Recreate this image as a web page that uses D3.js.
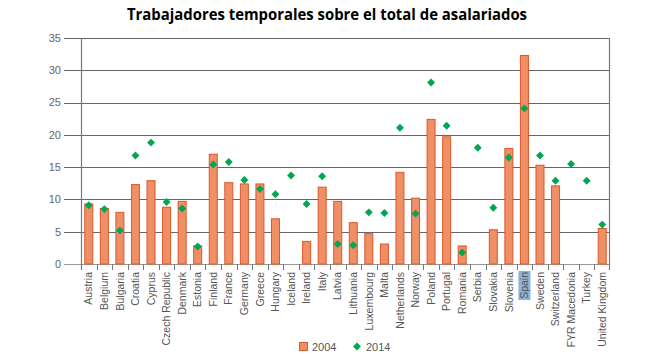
<!DOCTYPE html>
<html>
<head>
<meta charset="utf-8">
<script src="https://cdn.jsdelivr.net/npm/d3@7"></script>
<style>
  body { margin: 0; background: #fff; }
</style>
</head>
<body>
<div id="chart"></div>
<script>
const countries = ["Austria", "Belgium", "Bulgaria", "Croatia", "Cyprus", "Czech Republic", "Denmark",
  "Estonia", "Finland", "France", "Germany", "Greece", "Hungary", "Iceland", "Ireland", "Italy", "Latvia",
  "Lithuania", "Luxembourg", "Malta", "Netherlands", "Norway", "Poland", "Portugal", "Romania", "Serbia",
  "Slovakia", "Slovenia", "Spain", "Sweden", "Switzerland", "FYR Macedonia", "Turkey", "United Kingdom"];

// 2004 bars (null = no data)
const values2004 = [9.3, 8.6, 8.0, 12.3, 12.9, 8.8, 9.7, 2.8, 17.0, 12.6, 12.4, 12.4, 7.0, null, 3.5, 11.9, 9.7,
  6.4, 4.7, 3.1, 14.2, 10.2, 22.4, 19.7, 2.8, null, 5.3, 17.9, 32.3, 15.3, 12.1, null, null, 5.5];

// 2014 diamonds
const values2014 = [9.1, 8.5, 5.2, 16.8, 18.8, 9.6, 8.6, 2.7, 15.4, 15.8, 13.0, 11.6, 10.8, 13.7, 9.3, 13.6, 3.1,
  2.9, 8.0, 7.9, 21.1, 7.8, 28.1, 21.4, 1.8, 18.0, 8.7, 16.5, 24.1, 16.8, 12.9, 15.5, 12.9, 6.1];

const yTicks = [0, 5, 10, 15, 20, 25, 30, 35];

const width = 653, height = 354;
const margin = {top: 38, right: 43, bottom: 90, left: 81};
const visWidth = width - margin.left - margin.right;
const visHeight = height - margin.top - margin.bottom;

const svg = d3.select("#chart").append("svg")
  .attr("width", width).attr("height", height)
  .style("font-family", "'Liberation Sans', Arial, sans-serif");

svg.append("text")
  .attr("x", 327).attr("y", 20)
  .attr("text-anchor", "middle")
  .attr("font-family", "'Open Sans', sans-serif")
  .attr("font-weight", "bold")
  .attr("font-size", "16px")
  .attr("fill", "#000")
  .attr("textLength", 400)
  .attr("lengthAdjust", "spacingAndGlyphs")
  .text("Trabajadores temporales sobre el total de asalariados");

const g = svg.append("g").attr("transform", `translate(${margin.left}, ${margin.top})`);

const x = d3.scaleBand().domain(countries).range([0, visWidth]);
const y = d3.scaleLinear().domain([0, 35]).range([visHeight, 0]);

// gridlines (extend left as tick marks)
g.selectAll("grid")
  .data(yTicks)
  .enter()
  .append("line")
    .attr("x1", -17).attr("x2", visWidth)
    .attr("y1", d => Math.round(y(d)) + 0.5)
    .attr("y2", d => Math.round(y(d)) + 0.5)
    .attr("stroke", d => d === 0 ? "#999" : "#666")
    .attr("stroke-width", 1.2);

g.selectAll("ylab")
  .data(yTicks)
  .enter()
  .append("text")
    .attr("x", -20)
    .attr("y", d => y(d))
    .attr("dy", "0.35em")
    .attr("text-anchor", "end")
    .attr("font-size", "11px")
    .attr("fill", "#666")
    .text(d => d);

// left axis and right border
g.append("line")
  .attr("x1", 0.5).attr("x2", 0.5).attr("y1", 0).attr("y2", visHeight + 6)
  .attr("stroke", "#777").attr("stroke-width", 1.2);
g.append("line")
  .attr("x1", visWidth - 0.5).attr("x2", visWidth - 0.5).attr("y1", 0).attr("y2", visHeight + 6)
  .attr("stroke", "#777").attr("stroke-width", 1.2);

// ticks between categories
g.selectAll("xtick")
  .data(countries.slice(1))
  .enter()
  .append("line")
    .attr("x1", d => Math.round(x(d)) + 0.5)
    .attr("x2", d => Math.round(x(d)) + 0.5)
    .attr("y1", visHeight).attr("y2", visHeight + 6)
    .attr("stroke", "#777");

// bars
const barWidth = 8;
g.selectAll("bars")
  .data(countries.map((c, i) => ({c, v: values2004[i]})).filter(d => d.v !== null))
  .enter()
  .append("rect")
    .attr("x", d => x(d.c) + x.bandwidth() / 2 - barWidth / 2)
    .attr("y", d => y(d.v))
    .attr("width", barWidth)
    .attr("height", d => visHeight - y(d.v))
    .attr("fill", "#EE8F66")
    .attr("stroke", "#E0562A")
    .attr("stroke-width", 1);

// diamonds
const diamond = d3.symbol().type(d3.symbolDiamond2).size(40);
g.selectAll("points")
  .data(countries.map((c, i) => ({c, v: values2014[i]})))
  .enter()
  .append("path")
    .attr("d", diamond)
    .attr("transform", d => `translate(${x(d.c) + x.bandwidth() / 2}, ${y(d.v)})`)
    .attr("fill", "#00A651");

// x labels
const xl = g.selectAll("xlab")
  .data(countries)
  .enter()
  .append("g")
    .attr("transform", d => `translate(${x(d) + x.bandwidth() / 2}, ${visHeight + 8}) rotate(-90)`);

xl.filter(d => d === "Spain")
  .append("rect")
    .attr("x", -28).attr("y", -6).attr("width", 29).attr("height", 12)
    .attr("fill", "#8DB3D6");

xl.append("text")
  .attr("text-anchor", "end")
  .attr("dy", "0.35em")
  .attr("font-size", "10.5px")
  .attr("fill", "#555")
  .text(d => d);

// legend
const legend = svg.append("g");
legend.append("rect")
  .attr("x", 299.5).attr("y", 342.5).attr("width", 8).attr("height", 8)
  .attr("fill", "#EE8F66").attr("stroke", "#E0562A");
legend.append("text")
  .attr("x", 312).attr("y", 347).attr("dy", "0.35em")
  .attr("font-size", "11px").attr("fill", "#555").text("2004");
legend.append("path")
  .attr("d", diamond)
  .attr("transform", "translate(357, 346.5)")
  .attr("fill", "#00A651");
legend.append("text")
  .attr("x", 366).attr("y", 347).attr("dy", "0.35em")
  .attr("font-size", "11px").attr("fill", "#555").text("2014");
</script>
</body>
</html>
